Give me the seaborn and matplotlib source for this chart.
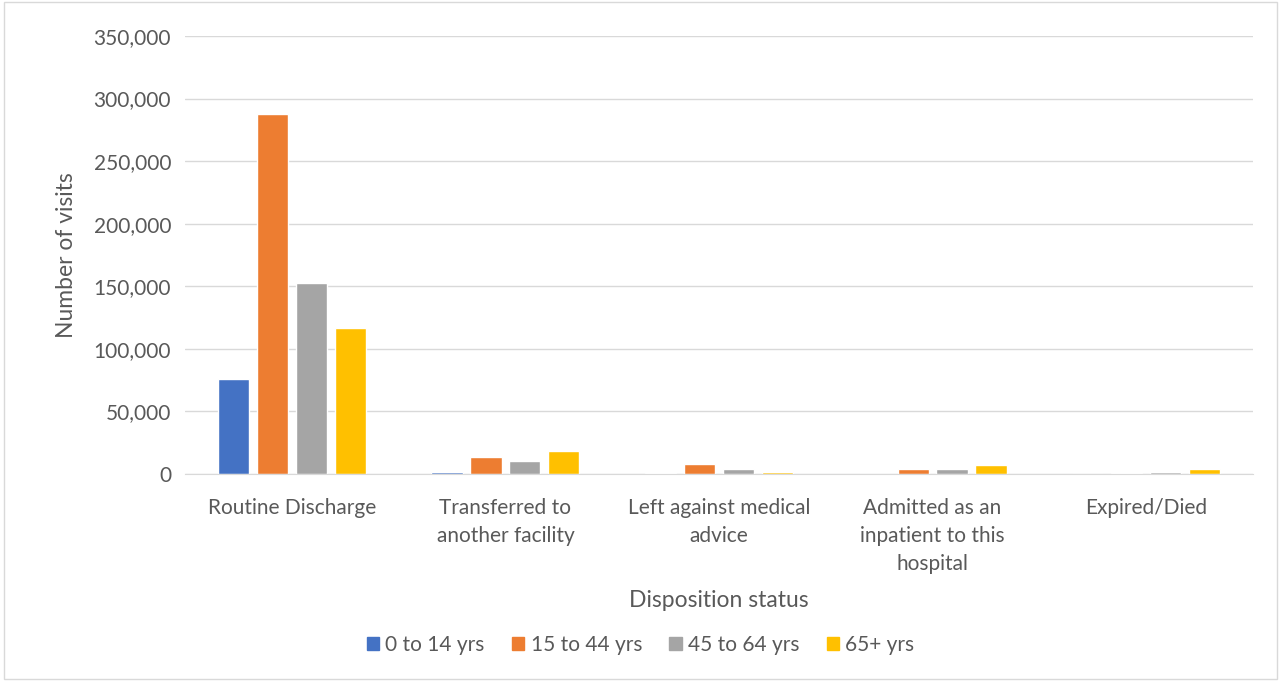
import matplotlib.pyplot as plt
import matplotlib.patches as mpatches
import pandas as pd
import seaborn as sns

# Données
categories = ["Routine Discharge", "Transferred to\nanother facility",
              "Left against medical\nadvice", "Admitted as an\ninpatient to this\nhospital",
              "Expired/Died"]
age_groups = ["0 to 14 yrs", "15 to 44 yrs", "45 to 64 yrs", "65+ yrs"]
visits_0_14 = [75900, 1500, 900, 200, 100]
visits_15_44 = [287800, 13600, 8000, 4000, 700]
visits_45_64 = [152800, 10600, 4000, 4000, 1800]
visits_65 = [116500, 18400, 1600, 7200, 3700]
colors = ["#4472C4", "#ED7D31", "#A5A5A5", "#FFC000"]

rows = []
for grp, vals in zip(age_groups, [visits_0_14, visits_15_44, visits_45_64, visits_65]):
    for cat, v in zip(categories, vals):
        rows.append({"status": cat, "age": grp, "visits": v})
df = pd.DataFrame(rows)

sns.set_style("white")
plt.rcParams["font.family"] = ["Lato", "DejaVu Sans"]

fig = plt.figure(figsize=(12.81, 6.81), dpi=100)
ax = fig.add_axes([185 / 1281, 1 - 474 / 681, 1068 / 1281, 438 / 681])
sns.barplot(data=df, x="status", y="visits", hue="age", palette=colors,
            width=0.73, gap=0.2, ax=ax, legend=False, saturation=1)

ax.set_ylim(0, 350000)
ax.set_yticks(range(0, 350001, 50000))
ax.set_yticklabels([f"{v:,}" for v in range(0, 350001, 50000)])
ax.yaxis.grid(True, color="#d9d9d9", linewidth=1)
ax.set_axisbelow(True)
for s in ["top", "right", "left"]:
    ax.spines[s].set_visible(False)
ax.spines["bottom"].set_color("#d9d9d9")
ax.tick_params(axis="both", length=0, labelsize=15, colors="#595959", pad=10)
ax.tick_params(axis="x", pad=17)
for lbl in ax.get_xticklabels():
    lbl.set_linespacing(1.5)
ax.set_xlabel("Disposition status", fontsize=16.5, color="#595959", labelpad=12)
ax.set_ylabel("Number of visits", fontsize=16.5, color="#595959", labelpad=12)

handles = [mpatches.Patch(color=c, label=g) for c, g in zip(colors, age_groups)]
fig.legend(handles=handles, loc="center", bbox_to_anchor=(0.5, 1 - 645 / 681), ncol=4,
           frameon=False, fontsize=15, handlelength=0.6, handleheight=0.6,
           handletextpad=0.3, columnspacing=1.3, labelcolor="#595959")

# Cadre extérieur
fig.patches.append(mpatches.Rectangle((0.003, 0.003), 0.994, 0.994, transform=fig.transFigure,
                                      fill=False, edgecolor="#d9d9d9", linewidth=1))
fig.savefig("out.png", dpi=100)
